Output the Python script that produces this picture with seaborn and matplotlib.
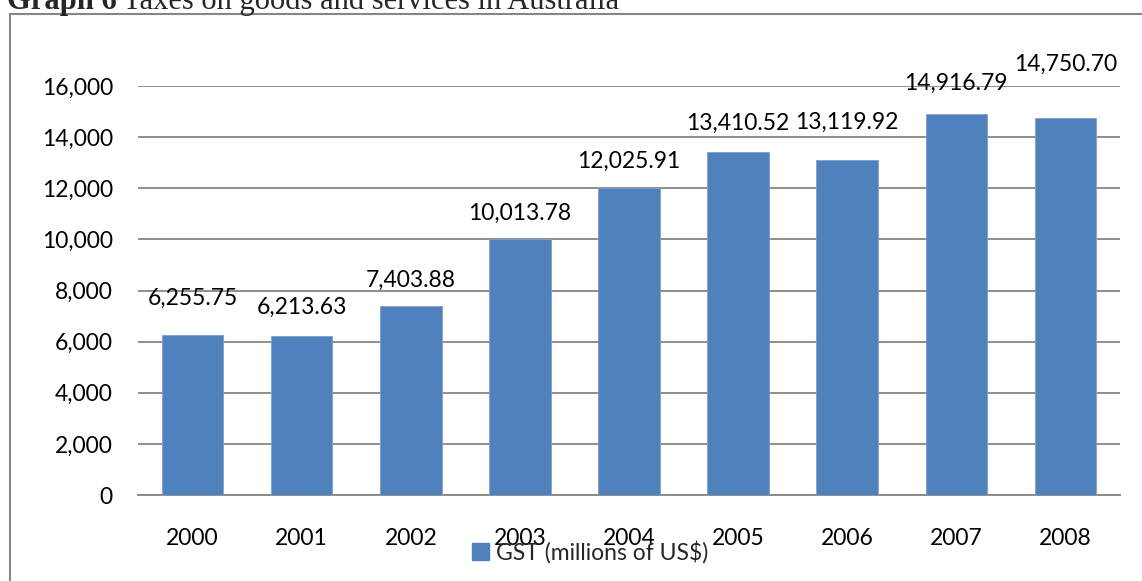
import matplotlib
matplotlib.use("Agg")
import matplotlib.pyplot as plt
import seaborn as sns
import pandas as pd
from matplotlib.patches import Rectangle
from matplotlib.ticker import FuncFormatter, MultipleLocator

years = ["2000", "2001", "2002", "2003", "2004", "2005", "2006", "2007", "2008"]
gst = [6255.75, 6213.63, 7403.88, 10013.78, 12025.91, 13410.52, 13119.92, 14916.79, 14750.70]
series_name = "GST (millions of US$)"
title_bold = "Graph 6"
title_rest = "Taxes on goods and services in Australia"

# label vertical offsets above bar top (pixels), as placed in the reference
label_offsets_px = [37, 29, 25, 26, 26, 29, 37, 30, 54]

df = pd.DataFrame({"Year": years, "GST": gst})

sns.set_theme(style="white")
plt.rcParams["font.family"] = ["Lato", "DejaVu Sans"]

W, H = 1142, 581
fig = plt.figure(figsize=(W / 100, H / 100), dpi=100)
ax = fig.add_axes([138 / W, 1 - 495 / H, (1120 - 138) / W, (495 - 86) / H])

bar_color = "#4F81BD"
sns.barplot(data=df, x="Year", y="GST", color=bar_color, width=0.565,
            saturation=1, ax=ax, zorder=3, edgecolor="#7F9FD0", linewidth=0.6)

ax.set_ylim(0, 16000)
ax.set_xlim(-0.5, len(years) - 0.5)
ax.yaxis.set_major_locator(MultipleLocator(2000))
ax.yaxis.set_major_formatter(FuncFormatter(lambda v, p: f"{int(v):,}"))
ax.grid(axis="y", color="#868686", linewidth=1.3, zorder=0)
ax.set_axisbelow(True)
for s in ["top", "right", "left"]:
    ax.spines[s].set_visible(False)
ax.spines["bottom"].set_color("#868686")
ax.spines["bottom"].set_linewidth(1.3)
ax.set_xlabel("")
ax.set_ylabel("")
ax.tick_params(axis="y", length=0, pad=18, labelsize=16.5, labelcolor="black")
ax.tick_params(axis="x", length=0, pad=23.5, labelsize=16.5, labelcolor="black")

for i, (v, off) in enumerate(zip(gst, label_offsets_px)):
    ax.annotate(f"{v:,.2f}", xy=(i, v), xytext=(0, off * 0.72),
                textcoords="offset points", ha="center", va="center",
                fontsize=16.5, color="black", annotation_clip=False, zorder=5)

# legend
handle = Rectangle((0, 0), 1, 1, color=bar_color)
fig.legend([handle], [series_name], loc="center", bbox_to_anchor=(590 / W, 1 - 552 / H),
           frameon=False, fontsize=16.5, handlelength=0.75, handleheight=0.75,
           handletextpad=0.3, borderpad=0)

# outer border (extends past right and bottom edges)
border = Rectangle((10 / W, -0.05), 1.1, 1 - 14 / H + 0.05, transform=fig.transFigure,
                   fill=False, edgecolor="#868686", linewidth=1.5, clip_on=False)
fig.patches.append(border)

# title, partially cut off at top
t1 = fig.text(7 / W, 1 - 9.5 / H, title_bold, family="Liberation Serif", weight="bold",
              fontsize=22, va="baseline", ha="left")
fig.canvas.draw()
bb = t1.get_window_extent()
fig.text((bb.x1 + 6) / W, 1 - 9.5 / H, title_rest, family="Liberation Serif",
         fontsize=22, va="baseline", ha="left")

fig.savefig("out.png", dpi=100)
